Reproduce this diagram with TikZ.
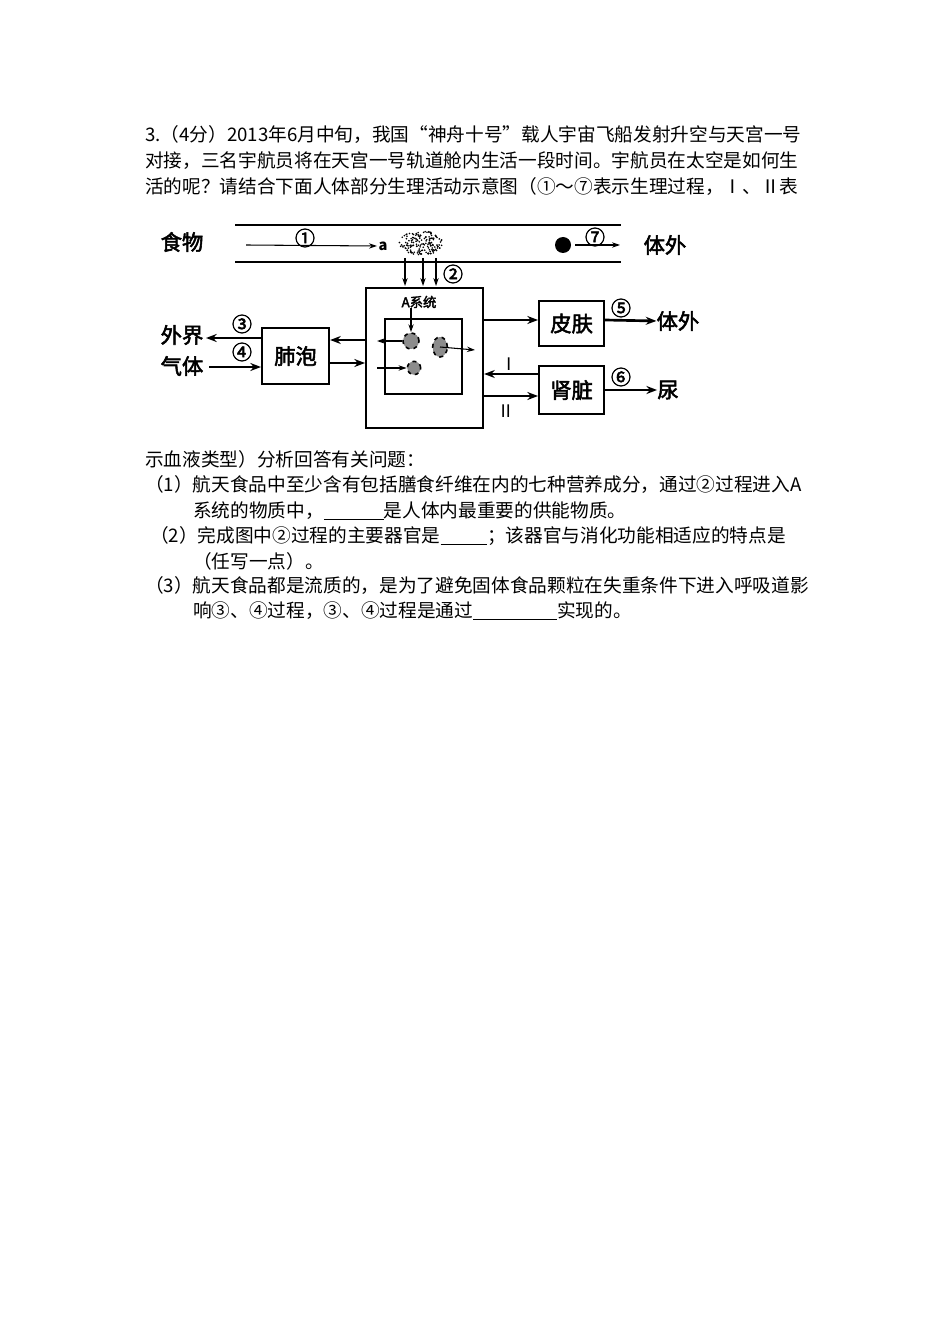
\documentclass[tikz,border=0pt]{standalone}
\usepackage{fontspec}
\setmainfont{Noto Sans CJK SC}
\newfontfamily\cjkb[FakeBold=2.5]{Noto Sans CJK SC}
\usetikzlibrary{arrows.meta,calc,shapes.geometric}
\tikzset{
 txt/.style={anchor=west,inner sep=0pt,font=\fontsize{14}{16}\selectfont},
 lbl/.style={inner sep=0pt,font=\cjkb\fontsize{16}{18}\selectfont},
 num/.style={inner sep=0pt,font=\cjkb\fontsize{15}{16}\selectfont},
 boxx/.style={draw,line width=1.6pt},
 thin/.style={-{Stealth[length=6pt,width=4pt]},line width=0.8pt},
 thick/.style={-{Stealth[length=8pt,width=6pt]},line width=2pt},
 cell/.style={draw,line width=1.2pt,inner sep=0pt,fill=black!45,dashed},
}
\newcommand{\blank}[1]{\underline{\hspace{#1}}}
\begin{document}
\begin{tikzpicture}[x=0.75pt,y=-0.75pt]
\useasboundingbox (0,0) rectangle (950,1344);
% text above
\node[txt] (t1) at (145,135) {3.（4分）2013年6月中旬，我国“神舟十号”载人宇宙飞船发射升空与天宫一号};
\node[txt] (t2) at (145,161) {对接，三名宇航员将在天宫一号轨道舱内生活一段时间。宇航员在太空是如何生};
\node[txt] (t3) at (145,187) {活的呢？请结合下面人体部分生理活动示意图（①～⑦表示生理过程，Ⅰ、Ⅱ表};
% text below
\node[txt] (b1) at (145,459) {示血液类型）分析回答有关问题：};
\node[txt] (b2) at (145,485) {（1）航天食品中至少含有包括膳食纤维在内的七种营养成分，通过②过程进入A};
\node[txt] (b3) at (193,511) {系统的物质中，\blank{3.2em}是人体内最重要的供能物质。};
\node[txt] (b4) at (150,536) {（2）完成图中②过程的主要器官是\blank{2.5em}；该器官与消化功能相适应的特点是};
\node[txt] (b5) at (193,561) {（任写一点）。};
\node[txt] (b6) at (145,586) {（3）航天食品都是流质的，是为了避免固体食品颗粒在失重条件下进入呼吸道影};
\node[txt] (b7) at (193,611) {响③、④过程，③、④过程是通过\blank{4.5em}实现的。};
% digestive tract
\draw[line width=1.3pt] (235,225) -- (621,225);
\draw[line width=1.3pt] (235,262) -- (621,262);
\node[lbl] (food) at (182,242) {食物};
\coordinate (a1s) at (246,245);
\node[inner sep=1pt,font=\bfseries\fontsize{11}{12}\selectfont] (a) at (383,246) {a};
\draw[thin] (a1s) -- (a.west);
\node[num] (n1) at (305,238) {①};
\node[circle,minimum size=38pt,inner sep=0pt] (cloud) at (421,243) {};
\pgfmathsetseed{7}
\foreach \i in {1,...,160}{
  \pgfmathsetmacro{\ang}{360*rnd}
  \pgfmathsetmacro{\rr}{sqrt(rnd)}
  \fill ($(421,243)+(\ang:{\rr*22} and {\rr*12})$) circle (0.9);
}
\fill (563,245) circle (8);
\node[inner sep=0pt] (dot) at (563,245) {};
\coordinate (e7) at (620,245);
\draw[thin] (575,245) -- (e7);
\node[num] (n7) at (595,237) {⑦};
\node[lbl] (out1) at (665,245) {体外};
% A system
\node[boxx,minimum width=117*0.75pt,minimum height=140*0.75pt,anchor=north west] (A) at (365,287) {};
\foreach \x in {405,423,436}{\draw[thin] (\x,258) -- (\x,286);}
\node[num] (n2) at (453,274) {②};
\node[inner sep=0pt,font=\cjkb\fontsize{10}{12}\selectfont] (Alab) at (419,302) {A系统};
\node[draw,line width=1.4pt,minimum width=77*0.75pt,minimum height=75*0.75pt,anchor=north west] (inner) at (384,318) {};
\node[cell,circle,minimum size=12pt] (c1) at (411,341) {};
\node[cell,ellipse,minimum width=11pt,minimum height=15pt] (c2) at (440,347) {};
\node[cell,circle,minimum size=10pt] (c3) at (414,368) {};
\draw[thin] (Alab.south -| c1) -- (c1.north);
\coordinate (c1e) at (377,341);
\draw[thin] (c1.west) -- (c1e);
\coordinate (c3s) at (377,368);
\draw[thin] (c3s) -- (c3.west);
\coordinate (c2e) at (475,350);
\draw[thin] (c2.center) -- (c2e);
% lungs
\node[boxx,minimum width=67*0.75pt,minimum height=56*0.75pt,anchor=north west] (lung) at (261,327) {};
\node[lbl] at (lung) {肺泡};
\draw[thick] (A.west |- 0,340) -- (lung.east |- 0,340);
\draw[thick] (lung.east |- 0,363) -- (A.west |- 0,363);
\node[lbl] (wj) at (182,335) {外界};
\node[lbl] (qt) at (182,366) {气体};
\coordinate (e3) at (206,338);
\coordinate (s4) at (209,367);
\draw[thick] (lung.west |- e3) -- (e3);
\draw[thick] (s4) -- (lung.west |- s4);
\node[num] (n3) at (242,324) {③};
\node[num] (n4) at (242,352) {④};
% skin
\node[boxx,minimum width=65*0.75pt,minimum height=45*0.75pt,anchor=north west] (skin) at (538,300) {};
\node[lbl] at (skin) {皮肤};
\draw[thick] (A.east |- 0,320) -- (skin.west |- 0,320);
\node[lbl] (out2) at (678,321) {体外};
\draw[thick] (skin.east |- 0,320) -- (out2.west);
\node[num] (n5) at (621,308) {⑤};
% kidney
\node[boxx,minimum width=65*0.75pt,minimum height=48*0.75pt,anchor=north west] (kid) at (538,365) {};
\node[lbl] at (kid) {肾脏};
\draw[thick] (kid.west |- 0,374) -- (A.east |- 0,374);
\draw[thick] (A.east |- 0,396) -- (kid.west |- 0,396);
\node[inner sep=0pt,font=\fontsize{13}{14}\selectfont] (I) at (509,364) {Ⅰ};
\node[inner sep=0pt,font=\fontsize{13}{14}\selectfont] (II) at (506,411) {Ⅱ};
\node[lbl] (ni) at (668,390) {尿};
\draw[thick] (kid.east |- 0,390) -- (ni.west);
\node[num] (n6) at (621,377) {⑥};
\end{tikzpicture}
\end{document}
